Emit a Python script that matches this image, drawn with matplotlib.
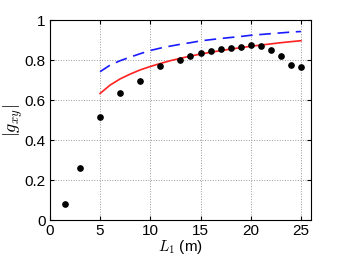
import matplotlib
matplotlib.use('Agg')
from matplotlib import pyplot as plt
import numpy as np

# measured points
L1_meas = [1.5, 3, 5, 7, 9, 11, 13, 14, 15, 16, 17, 18, 19, 20, 21, 22, 23, 24, 25]
g_meas = [0.08, 0.258, 0.515, 0.635, 0.697, 0.768, 0.802, 0.82, 0.833, 0.845,
          0.853, 0.858, 0.867, 0.873, 0.872, 0.85, 0.82, 0.775, 0.765]

# model curves
L1_model = [5, 6, 7, 8, 9, 10, 11, 12, 13, 14, 15, 16, 17, 18, 19, 20, 21, 22, 23, 24, 25]
g_red = [0.633, 0.675, 0.706, 0.730, 0.751, 0.768, 0.783, 0.797, 0.809, 0.820, 0.830,
         0.839, 0.847, 0.855, 0.862, 0.869, 0.875, 0.881, 0.887, 0.892, 0.897]
g_blue = [0.742, 0.775, 0.797, 0.815, 0.832, 0.848, 0.860, 0.870, 0.879, 0.887, 0.896,
          0.902, 0.908, 0.913, 0.918, 0.924, 0.928, 0.932, 0.936, 0.940, 0.943]

plt.rcParams['font.family'] = ['Liberation Sans', 'DejaVu Sans']
plt.rcParams['mathtext.fontset'] = 'cm'

fig = plt.figure(figsize=(3.44, 2.61), dpi=100)
ax = fig.add_axes([0.145, 0.157, 0.759, 0.766])

ax.plot(L1_model, g_blue, color='#1a1aff', linestyle=(0, (7, 4)), linewidth=1.2)
ax.plot(L1_model, g_red, color='#ff2020', linewidth=1.2)
ax.plot(L1_meas, g_meas, 'o', color='k', markersize=3.8)

ax.set_xlim(0, 26)
ax.set_ylim(0, 1)
ax.set_xticks([0, 5, 10, 15, 20, 25])
ax.set_yticks([0, 0.2, 0.4, 0.6, 0.8, 1])
ax.set_yticklabels(['0', '0.2', '0.4', '0.6', '0.8', '1'])
ax.grid(True, linestyle=':', color='#999999', linewidth=0.7)
ax.tick_params(direction='in', top=True, right=True, labelsize=11, length=3, pad=3)
for s in ax.spines.values():
    s.set_linewidth(0.8)

ax.set_xlabel('$L_1$ (m)', fontsize=11, labelpad=0)
ax.set_ylabel('$|g_{xy}|$', fontsize=13)
ax.yaxis.set_label_coords(-0.095, 0.5)

fig.savefig('out.png', dpi=100)
